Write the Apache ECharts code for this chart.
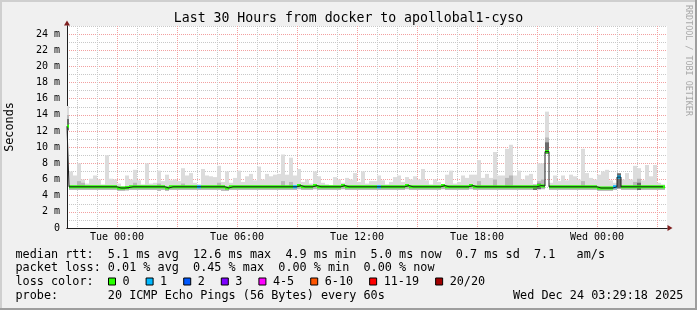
<!DOCTYPE html>
<html><head><meta charset="utf-8">
<script src="https://cdn.jsdelivr.net/npm/echarts@6/dist/echarts.min.js"></script>
<style>html,body{margin:0;padding:0;background:#f0f0f0}#c{width:697px;height:310px}</style>
</head><body><div id="c"></div>
<script>
// ---- time layout (minutes relative to Tue 00:00) ----
const firstColStart = -156;   // first consolidated column starts Mon 21:24
const colStep = 12;           // 12-minute RRD steps
const xMin = -150, xMax = 1650;  // 30 hours shown
const tickMinutes = [0, 360, 720, 1080, 1440];
const tickLabels = ['Tue 00:00', 'Tue 06:00', 'Tue 12:00', 'Tue 18:00', 'Wed 00:00'];

// ---- per-column data (ms) ----
const medianMs = [
12.6,5.1,5.1,5.1,5.1,5.1,5.1,5.1,5.1,5.1,
5.1,5.1,5.1,4.95,4.95,5.0,5.1,5.1,5.1,5.1,
5.1,5.1,5.1,5.1,5.1,4.95,5.1,5.1,5.1,5.1,
5.1,5.1,5.1,5.1,5.1,5.1,5.1,5.1,5.1,5.1,
4.95,5.1,5.1,5.1,5.1,5.1,5.1,5.1,5.1,5.1,
5.1,5.1,5.1,5.1,5.1,5.1,5.1,5.1,5.25,5.1,
5.1,5.1,5.25,5.1,5.1,5.1,5.1,5.1,5.1,5.25,
5.1,5.1,5.1,5.1,5.1,5.1,5.1,5.1,5.1,5.1,
5.1,5.1,5.1,5.1,5.1,5.25,5.1,5.1,5.1,5.1,
5.1,5.1,5.1,5.1,5.25,5.1,5.1,5.1,5.1,5.1,
5.1,5.25,5.1,5.1,5.1,5.1,5.1,5.1,5.1,5.1,
5.1,5.1,5.1,5.1,5.1,5.1,5.1,5.1,5.25,5.2,
9.45,5.1,5.1,5.1,5.1,5.1,5.1,5.1,5.1,5.1,
5.1,5.1,5.1,4.95,4.95,4.95,4.95,5.1,6.3,5.1,
5.1,5.1,5.1,5.1,5.1,5.1,5.1,5.1,5.1,5.1];
const smokeMax = [
15.1,7.0,6.5,8.0,6.0,5.5,6.1,6.5,6.0,5.4,
9.0,6.1,6.0,5.5,5.2,6.5,6.0,7.2,5.9,5.4,
8.0,5.5,5.6,7.1,5.8,6.6,5.9,6.0,5.8,7.4,
6.5,6.8,5.6,5.4,7.3,6.5,6.4,6.3,7.7,5.7,
7.0,5.6,6.2,7.1,5.7,6.4,6.7,5.9,7.6,6.0,
6.7,6.4,6.6,6.7,9.1,6.6,8.7,6.5,7.3,5.7,
6.0,5.5,7.0,6.4,5.6,5.4,5.3,6.3,6.0,5.6,
6.2,6.0,6.8,5.7,7.0,5.5,5.8,5.8,6.5,5.9,
5.4,5.7,6.3,6.5,5.7,6.3,6.0,6.4,6.0,7.3,
5.9,5.4,6.0,5.7,5.4,6.6,7.1,5.5,5.7,6.5,
6.2,6.6,6.6,8.4,6.2,6.7,6.2,9.4,6.5,6.5,
9.8,10.3,6.5,7.1,6.0,6.5,6.7,5.4,8.0,8.0,
14.4,5.6,6.5,5.8,6.5,5.9,6.6,6.4,6.0,9.8,
6.8,6.2,6.0,6.6,7.0,7.2,5.9,5.6,6.8,6.0,
6.8,6.0,7.7,7.4,5.9,7.8,6.4,7.8,5.6,5.4];
const smokeMin = [
12.1,4.7,4.7,4.7,4.7,4.7,4.7,4.7,4.7,4.7,
4.7,4.7,4.7,4.6,4.6,4.65,4.7,4.7,4.7,4.7,
4.7,4.7,4.7,4.6,4.7,4.6,4.7,4.7,4.7,4.7,
4.7,4.7,4.7,4.7,4.7,4.7,4.7,4.7,4.7,4.6,
4.6,4.7,4.7,4.7,4.7,4.7,4.7,4.7,4.7,4.7,
4.7,4.7,4.7,4.7,4.7,4.7,4.7,4.7,4.8,4.7,
4.7,4.7,4.8,4.7,4.7,4.7,4.7,4.7,4.7,4.8,
4.7,4.7,4.7,4.7,4.7,4.7,4.7,4.7,4.7,4.7,
4.7,4.7,4.7,4.7,4.7,4.8,4.7,4.7,4.7,4.7,
4.7,4.7,4.7,4.7,4.8,4.7,4.7,4.7,4.7,4.7,
4.7,4.8,4.7,4.7,4.7,4.7,4.7,4.7,4.7,4.7,
4.7,4.7,4.7,4.7,4.7,4.7,4.7,4.7,4.8,4.8,
9.2,4.7,4.7,4.7,4.7,4.7,4.7,4.7,4.7,4.7,
4.7,4.7,4.7,4.6,4.6,4.6,4.6,4.7,4.9,4.7,
4.7,4.7,4.7,4.7,4.7,4.7,4.7,4.7,4.7,4.7];
// upper quartile of the smoke (null: not above the median)
const smokeQ3 = [
14.0,null,null,5.8,5.6,null,null,null,null,null,
null,null,null,null,null,null,null,5.6,null,null,
null,null,null,5.5,null,null,null,null,null,5.5,
null,null,null,null,null,null,null,null,5.6,null,
null,null,null,null,null,null,null,null,null,null,
null,null,null,null,5.8,null,5.7,null,null,null,
null,null,null,null,null,null,null,null,null,null,
null,null,null,null,null,null,null,null,null,null,
null,null,null,null,null,null,null,null,null,null,
null,null,null,null,null,null,null,null,null,null,
null,null,null,5.8,null,null,null,6.0,null,null,
6.2,6.5,null,null,null,null,null,5.4,5.8,6.0,
11.2,null,null,null,null,null,null,null,null,5.8,
null,null,null,null,null,null,null,null,6.8,null,
null,null,5.7,6.1,null,null,null,null,null,null];
// dense core of the smoke (null: none)
const smokeCore = [
13.5,null,null,null,null,null,null,null,null,null,
null,null,null,null,null,null,null,null,null,null,
null,null,null,null,null,null,null,null,null,null,
null,null,null,null,null,null,null,null,null,null,
null,null,null,null,null,null,null,null,null,null,
null,null,null,null,null,null,null,null,null,null,
null,null,null,null,null,null,null,null,null,null,
null,null,null,null,null,null,null,null,null,null,
null,null,null,null,null,null,null,null,null,null,
null,null,null,null,null,null,null,null,null,null,
null,null,null,null,null,null,null,null,null,null,
null,null,null,null,null,null,null,5.2,5.5,null,
10.6,null,null,null,null,null,null,null,null,null,
null,null,null,null,null,null,null,null,6.75,null,
null,null,null,5.6,null,null,null,null,null,null];
// loss class index per column (0 = no loss, 1 = 1 lost ping)
const lossClass = [
0,0,0,0,0,0,0,0,0,0, 0,0,0,0,0,0,0,0,0,0, 0,0,0,0,0,0,0,0,0,0,
0,0,0,1,0,0,0,0,0,0, 0,0,0,0,0,0,0,0,0,0, 0,0,0,0,0,0,0,1,0,0,
0,0,0,0,0,0,0,0,0,0, 0,0,0,0,0,0,0,0,1,0, 0,0,0,0,0,0,0,0,0,0,
0,0,0,0,0,0,0,0,0,0, 0,0,0,0,0,0,0,0,0,0, 0,0,0,0,0,0,0,0,0,0,
0,0,0,0,0,0,0,0,0,0, 0,0,0,0,0,0,0,1,1,0, 0,0,0,0,0,0,0,0,0,0];
const lossNames = ['0', '1', '2', '3', '4-5', '6-10', '11-19', '20/20'];
const lossColors = ['#26ff00', '#00b8ff', '#0059ff', '#7e00ff', '#ff00ff', '#ff5500', '#ff0000', '#a10000'];

// ---- legend texts ----
const legendRows = [
  'median rtt:  5.1 ms avg  12.6 ms max  4.9 ms min  5.0 ms now  0.7 ms sd  7.1   am/s',
  'packet loss: 0.01 % avg  0.45 % max  0.00 % min  0.00 % now',
  'loss color:',
  'probe:       20 ICMP Echo Pings (56 Bytes) every 60s'
];
const stampText = 'Wed Dec 24 03:29:18 2025';
const titleText = 'Last 30 Hours from docker to apollobal1-cyso';

// ---- build ----
const MONO = '"DejaVu Sans Mono", monospace';
const BAND = 0.19;
const hourGrid = [];
for (let m = -120; m <= 1620; m += 60) hourGrid.push(m);
const colStart = i => firstColStart + colStep * i;

// rows [xStart, xEnd, low, high] for one layer
function layerRows(lowFn, highFn) {
  const rows = [];
  medianMs.forEach((_, i) => {
    const lo = lowFn(i), hi = highFn(i);
    if (lo == null || hi == null) return;
    rows.push([colStart(i), colStart(i) + colStep, lo, hi]);
  });
  return rows;
}
function renderRect(params, api) {
  const p0 = api.coord([api.value(0), api.value(3)]);
  const p1 = api.coord([api.value(1), api.value(2)]);
  const cs = params.coordSys;
  const shape = echarts.graphic.clipRectByRect(
    {x: p0[0], y: p0[1], width: p1[0] - p0[0], height: p1[1] - p0[1]},
    {x: cs.x, y: cs.y, width: cs.width, height: cs.height});
  if (!shape) return null;
  return {type: 'rect', shape: shape, style: {fill: api.visual('color')}};
}
function rectSeries(name, rows, color) {
  const s = {type: 'custom', renderItem: renderRect, data: rows, encode: {x: [0, 1], y: [2, 3]},
    itemStyle: {color: color}, silent: true, animation: false, clip: true, legendHoverLink: false};
  if (name != null) s.name = name;
  return s;
}

const series = [];
series.push(rectSeries(null, layerRows(i => smokeMin[i], i => smokeMax[i]), '#dcdcdc'));
series.push(rectSeries(null, layerRows(i => smokeMin[i], i => Math.max(smokeQ3[i] ?? medianMs[i], medianMs[i])), '#b8b8b8'));
series.push(rectSeries(null, layerRows(i => smokeCore[i] == null ? null : smokeMin[i], i => smokeCore[i]), '#6a6a6a'));
series.push({type: 'line', step: 'middle', data: medianMs.map((m, i) => [colStart(i) + colStep / 2, m]),
  symbol: 'none', silent: true, animation: false, lineStyle: {color: '#202020', width: 1}});
lossNames.forEach((name, c) => {
  series.push(rectSeries(name, layerRows(i => lossClass[i] === c ? medianMs[i] - BAND : null,
                                         i => lossClass[i] === c ? medianMs[i] + BAND : null), lossColors[c]));
});

const gridGrey = '#c8c8c8', gridRed = '#f2a0a0';
const chart = echarts.init(document.getElementById('c'), null, {renderer: 'canvas'});
chart.setOption({
  backgroundColor: '#f0f0f0',
  animation: false,
  title: {text: titleText, left: 'center', top: 12, padding: 0,
    textStyle: {fontFamily: MONO, fontSize: 13.2, fontWeight: 'normal', color: '#000'}},
  grid: {left: 67, right: 30, top: 26, bottom: 82, show: true, backgroundColor: '#fff', borderWidth: 0},
  legend: {data: lossNames, left: 108, top: 275.5, padding: 0, itemWidth: 7, itemHeight: 7, itemGap: 16,
    icon: 'rect', selectedMode: false, itemStyle: {borderColor: '#000', borderWidth: 1},
    textStyle: {fontFamily: MONO, fontSize: 11.8, color: '#000', padding: [0, 0, 0, 2]}},
  xAxis: [{
    type: 'value', min: xMin, max: xMax, position: 'bottom', z: 1,
    axisLine: {show: true, onZero: false, lineStyle: {color: '#1f1f1f', width: 1}},
    axisTick: {show: false, customValues: hourGrid},
    splitLine: {show: true, customValues: hourGrid, lineStyle: {color: [gridGrey, gridGrey, gridRed], width: 1, type: [1, 1]}},
    axisLabel: {customValues: tickMinutes, margin: 4, color: '#000', fontFamily: MONO, fontSize: 10,
      formatter: v => tickLabels[tickMinutes.indexOf(v)] || ''}
  }, {
    type: 'value', min: xMin, max: xMax, position: 'bottom', z: 0,
    axisLine: {show: true, onZero: false, symbol: ['none', 'triangle'], symbolSize: [6, 5], symbolOffset: [0, 3], lineStyle: {color: '#7f1f1f'}},
    axisTick: {show: false}, splitLine: {show: false}, axisLabel: {show: false}
  }],
  yAxis: [{
    type: 'value', min: 0, max: 25, interval: 1, position: 'left', z: 1,
    axisLine: {show: true, onZero: false, lineStyle: {color: '#1f1f1f', width: 1}},
    axisTick: {show: false},
    splitLine: {show: true, lineStyle: {color: [gridRed, gridGrey], width: 1, type: [1, 1]}},
    axisLabel: {margin: 7, color: '#000', fontFamily: MONO, fontSize: 10,
      formatter: v => v === 0 ? '0' : (v % 2 === 0 && v <= 24 ? v + ' m' : '')}
  }, {
    type: 'value', min: 0, max: 25, position: 'left', z: 0,
    axisLine: {show: true, onZero: false, symbol: ['none', 'triangle'], symbolSize: [6, 5], symbolOffset: [0, 3], lineStyle: {color: '#7f1f1f'}},
    axisTick: {show: false}, splitLine: {show: false}, axisLabel: {show: false}
  }],
  series: series,
  graphic: [
    {type: 'rect', shape: {x: 0, y: 0, width: 697, height: 2}, style: {fill: '#cfcfcf'}, silent: true},
    {type: 'rect', shape: {x: 0, y: 0, width: 2, height: 310}, style: {fill: '#cfcfcf'}, silent: true},
    {type: 'rect', shape: {x: 0, y: 308, width: 697, height: 2}, style: {fill: '#9e9e9e'}, silent: true},
    {type: 'rect', shape: {x: 695, y: 0, width: 2, height: 310}, style: {fill: '#9e9e9e'}, silent: true},
    {type: 'text', x: 10, y: 127, rotation: Math.PI / 2, silent: true,
      style: {text: 'Seconds', font: '11.8px ' + MONO, fill: '#000', align: 'center', verticalAlign: 'middle'}},
    {type: 'text', x: 688, y: 5, rotation: -Math.PI / 2, silent: true,
      style: {text: 'RRDTOOL / TOBI OETIKER', font: '8.4px ' + MONO, fill: '#a8a8a8', align: 'left', verticalAlign: 'middle'}},
    ...legendRows.map((t, r) => ({type: 'text', x: 15.5, y: [254.7, 268.1, 282.3, 295.7][r], silent: true,
      style: {text: t, font: '11.8px ' + MONO, fill: '#000', align: 'left', verticalAlign: 'middle'}})),
    {type: 'text', x: 513, y: 295.7, silent: true,
      style: {text: stampText, font: '11.8px ' + MONO, fill: '#000', align: 'left', verticalAlign: 'middle'}}
  ]
});
</script></body></html>
